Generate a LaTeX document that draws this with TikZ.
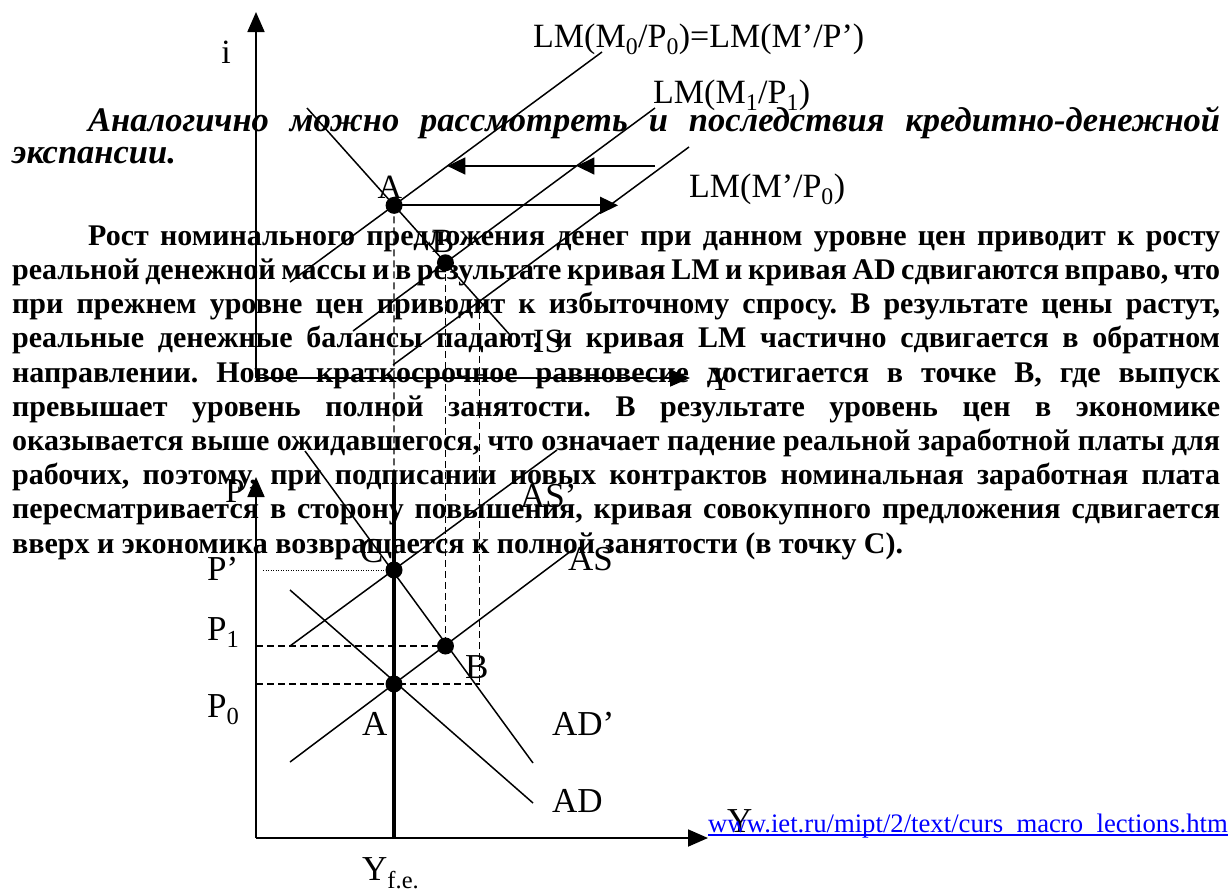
\documentclass[tikz,border=0pt]{standalone}
\usepackage{fontspec}
\setmainfont{Liberation Serif}
\usetikzlibrary{arrows.meta,calc}
\frenchspacing
\begin{document}
\begin{tikzpicture}[x=1pt,y=-1pt,
  curve/.style={line width=1.5pt},
  axisline/.style={line width=1.8pt,-{Triangle[length=20pt,width=17pt]}},
  shiftarrow/.style={line width=1.8pt,-{Triangle[length=18pt,width=17pt]}},
  guide/.style={line width=1.3pt,dash pattern=on 7pt off 4pt},
  dotline/.style={line width=1pt,dash pattern=on 1pt off 1.5pt},
  eqdot/.style={circle,fill=black,inner sep=0pt,minimum size=17pt},
  lbl/.style={inner sep=0pt,anchor=base west,font=\fontsize{34}{40}\selectfont},
  lbllow/.style={inner sep=0pt,anchor=base west,font=\fontsize{35}{40}\selectfont},
  bodyline/.style={inner sep=0pt,anchor=base west,font=\bfseries\fontsize{30}{34}\selectfont},
  headline/.style={inner sep=0pt,anchor=base west,font=\bfseries\itshape\fontsize{34.5}{38}\selectfont},
]
\useasboundingbox (0,0) rectangle (1232,892);
\fill[white] (0,0) rectangle (1232,892);

% ---------- text ----------
\node[headline] (h1) at (88,131) {\makebox[1132pt][s]{Аналогично можно рассмотреть и последствия кредитно-денежной}};
\node[headline] (h2) at (12,163) {экспансии.};
\node[bodyline] (t1) at (88,245) {\makebox[1132pt][s]{Рост номинального предложения денег при данном уровне цен приводит к росту}};
\node[bodyline] (t2) at (12,279) {\makebox[1208pt][s]{реальной денежной массы и в результате кривая LM и кривая AD сдвигаются вправо, что}};
\node[bodyline] (t3) at (12,313.5) {\makebox[1208pt][s]{при прежнем уровне цен приводит к избыточному спросу. В результате цены растут,}};
\node[bodyline] (t4) at (12,347.7) {\makebox[1208pt][s]{реальные денежные балансы падают, и кривая LM частично сдвигается в обратном}};
\node[bodyline] (t5) at (12,382) {\makebox[1208pt][s]{направлении. Новое краткосрочное равновесие достигается в точке B, где выпуск}};
\node[bodyline] (t6) at (12,416) {\makebox[1208pt][s]{превышает уровень полной занятости. В результате уровень цен в экономике}};
\node[bodyline] (t7) at (12,450) {\makebox[1208pt][s]{оказывается выше ожидавшегося, что означает падение реальной заработной платы для}};
\node[bodyline] (t8) at (12,484.5) {\makebox[1208pt][s]{рабочих, поэтому, при подписании новых контрактов номинальная заработная плата}};
\node[bodyline] (t9) at (12,518.7) {\makebox[1208pt][s]{пересматривается в сторону повышения, кривая совокупного предложения сдвигается}};
\node[bodyline] (t10) at (12,553) {вверх и экономика возвращается к полной занятости (в точку С).};

% ---------- upper IS-LM graph ----------
\coordinate (O1) at (256,378);
\coordinate (iTop) at (256,12);
\coordinate (Y1end) at (690,378);
\draw[axisline] (O1) -- (iTop);
\draw[axisline] (O1) -- (Y1end);

\coordinate (lm0a) at (602,52);   \coordinate (lm0b) at (290,282);
\coordinate (lm1a) at (655,108);  \coordinate (lm1b) at (353,331);
\coordinate (lm2a) at (689,147);  \coordinate (lm2b) at (393,365);
\coordinate (isa) at (307,108);   \coordinate (isb) at (510,335);
\draw[curve] (lm0a) -- (lm0b);
\draw[curve] (lm1a) -- (lm1b);
\draw[curve] (lm2a) -- (lm2b);
\draw[curve] (isa) -- (isb);

\coordinate (A) at (intersection of lm0a--lm0b and isa--isb);
\coordinate (B) at (intersection of lm1a--lm1b and isa--isb);
\coordinate (E) at (intersection of lm2a--lm2b and isa--isb);

\coordinate (r1start) at (655,166);
\coordinate (r1mid) at (intersection of lm1a--lm1b and 0,166--1000,166);
\coordinate (r1end) at (intersection of lm0a--lm0b and 0,166--1000,166);
\draw[shiftarrow] (r1start) -- (r1mid);
\draw[shiftarrow] (r1mid) -- (r1end);
\coordinate (r2end) at ($(A)+(224,0)$);
\draw[shiftarrow] (A) -- (r2end);

% ---------- lower AD-AS graph ----------
\coordinate (O2) at (256,838);
\coordinate (Ptop) at (256,477);
\coordinate (Y2end) at (708,838);
\draw[axisline] (O2) -- (Ptop);
\draw[axisline] (O2) -- (Y2end);

\coordinate (A2) at (394,684);
\coordinate (C2) at (394,570);
\coordinate (B2) at (B |- 0,646);
\coordinate (E2) at (E |- A2);
\coordinate (thickTop) at (394,478);
\coordinate (thickBot) at (394,838);
\coordinate (P1left) at (256,646);
\coordinate (P0left) at (256,684);
\coordinate (Pdleft) at (263,570);

\draw[guide] (A) -- (thickTop);
\draw[guide] (B) -- (B2);
\draw[guide] (E) -- (E2);
\draw[guide] (P1left) -- (B2);
\draw[guide] (P0left) -- (E2);
\draw[dotline] (Pdleft) -- (C2);
\draw[line width=4.5pt] (thickTop) -- (thickBot);

\coordinate (asa) at (290,762);  \coordinate (asb) at (575,548);
\coordinate (as2a) at (290,646); \coordinate (as2b) at (557,450);
\coordinate (ada) at (290,590);  \coordinate (adb) at (533,803);
\coordinate (ad2a) at (305,451); \coordinate (ad2b) at (533,763);
\draw[curve] (asa) -- (asb);
\draw[curve] (as2a) -- (as2b);
\draw[curve] (ada) -- (adb);
\draw[curve] (ad2a) -- (ad2b);

% ---------- equilibrium dots ----------
\node[eqdot] (dA) at (A) {};
\node[eqdot] (dB) at (B) {};
\node[eqdot] (dA2) at (A2) {};
\node[eqdot] (dB2) at (B2) {};
\node[eqdot] (dC2) at (C2) {};

% ---------- labels ----------
\node[lbl,anchor=base] (li) at (226,63) {i};
\node[lbl] (lLM0) at (533,47) {LM(M\textsubscript{0}/P\textsubscript{0})=LM(M’/P’)};
\node[lbl] (lLM1) at (653,103) {LM(M\textsubscript{1}/P\textsubscript{1})};
\node[lbl] (lLM2) at (689,197) {LM(M’/P\textsubscript{0})};
\node[lbl,anchor=base] (lA) at (390,198) {A};
\node[lbl,anchor=base] (lB) at (443,252) {B};
\node[lbl] (lIS) at (533,352) {IS};
\node[lbl] (lY1) at (708,390) {Y};

\node[lbllow] (lP) at (225,502) {P};
\node[lbllow] (lPd) at (207,580) {P’};
\node[lbllow] (lP1) at (207,640) {P\textsubscript{1}};
\node[lbllow] (lP0) at (207,717) {P\textsubscript{0}};
\node[lbllow] (lA2) at (362,735) {A};
\node[lbllow] (lB2) at (465,678) {B};
\node[lbllow] (lC) at (360,562) {C};
\node[lbllow] (lASd) at (520,507) {AS’};
\node[lbllow] (lAS) at (568,570) {AS};
\node[lbllow] (lADd) at (552,735) {AD’};
\node[lbllow] (lAD) at (552,812) {AD};
\node[lbllow] (lY2) at (727,832) {Y};
\node[lbllow] (lYfe) at (362,880) {Y\textsubscript{f.e.}};

\node[inner sep=0pt,anchor=base west,text=blue,font=\fontsize{26.7}{30}\selectfont] (url) at (708,832) {www.iet.ru/mipt/2/text/curs\_macro\_lections.htm};
\draw[blue,line width=1.2pt] ($(url.base west)+(0,3)$) -- ($(url.base east)+(0,3)$);
\end{tikzpicture}
\end{document}
